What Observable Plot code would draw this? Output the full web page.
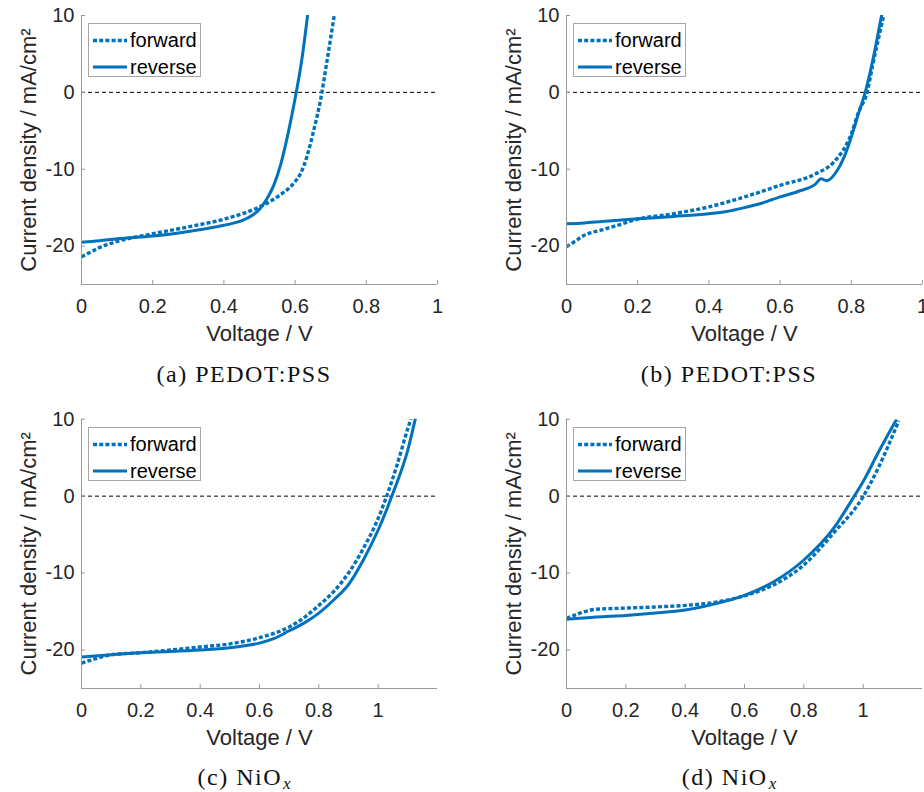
<!DOCTYPE html>
<html>
<head>
<meta charset="utf-8">
<script src="https://cdn.jsdelivr.net/npm/d3@7"></script>
<script src="https://cdn.jsdelivr.net/npm/@observablehq/plot@0.6"></script>
<style>
  body { margin: 0; background: #fff; }
  #root { position: relative; width: 924px; height: 792px; overflow: hidden; background: #fff; }
  .panel { position: absolute; width: 462px; height: 360px; }
  .legend { position: absolute; width: 113px; height: 54px; border: 1px solid #a6a6a6; background: #fff; box-sizing: border-box;
            font-family: "Liberation Sans", Arial, sans-serif; font-size: 20px; color: #000; }
  .legend svg { position: absolute; left: 0; top: 0; }
  .legend span { position: absolute; left: 41px; line-height: 20px; }
  .caption { position: absolute; font-family: "Liberation Serif", "Times New Roman", serif; font-size: 24px; letter-spacing: 1.5px;
             line-height: 25px; white-space: nowrap; transform: translateX(-50%); color: #111; }
  .caption sub { font-size: 17px; vertical-align: -4px; line-height: 0; letter-spacing: 0; margin-left: 1px; }
</style>
</head>
<body>
<div id="root"></div>
<script>
// ---------- data ----------
const xTicks = [0, 0.2, 0.4, 0.6, 0.8, 1];
const yTicks = [-20, -10, 0, 10];
const xLabel = "Voltage / V";
const yLabel = "Current density / mA/cm²";
const seriesNames = ["forward", "reverse"];
const captions = ["(a) PEDOT:PSS", "(b) PEDOT:PSS", "(c) NiO", "(d) NiO"];

// (a) PEDOT:PSS
const aForwardV = [0, 0.025, 0.05, 0.1, 0.2, 0.3, 0.4, 0.5, 0.55, 0.6, 0.615, 0.633, 0.652, 0.671, 0.69, 0.71];
const aForwardJ = [-21.4, -20.8, -20.2, -19.4, -18.4, -17.5, -16.5, -14.9, -13.6, -11.6, -10.6, -8.4, -5.0, -1.1, 4.2, 10];
const aReverseV = [0, 0.05, 0.1, 0.2, 0.3, 0.4, 0.45, 0.48, 0.5, 0.52, 0.54, 0.56, 0.58, 0.6, 0.62, 0.635];
const aReverseJ = [-19.5, -19.3, -19.05, -18.7, -18.1, -17.3, -16.7, -16.0, -15.2, -13.9, -12.1, -9.3, -5.4, -0.8, 4.6, 10];

// (b) PEDOT:PSS
const bForwardV = [0, 0.02, 0.05, 0.1, 0.15, 0.2, 0.3, 0.4, 0.5, 0.6, 0.7, 0.75, 0.8, 0.82, 0.845, 0.86, 0.89];
const bForwardJ = [-20.1, -19.5, -18.6, -17.9, -17.2, -16.5, -15.8, -14.9, -13.6, -12.1, -10.6, -9.1, -5.4, -2.6, 0.1, 3.5, 9.8];
const bReverseV = [0, 0.05, 0.1, 0.2, 0.3, 0.4, 0.45, 0.5, 0.55, 0.6, 0.65, 0.7, 0.715, 0.73, 0.76, 0.78, 0.8, 0.82, 0.84, 0.86, 0.885];
const bReverseJ = [-17.1, -17.0, -16.8, -16.45, -16.15, -15.8, -15.5, -15.0, -14.4, -13.6, -12.9, -11.9, -11.25, -11.5, -10.2, -8.4, -5.8, -2.8, 0.15, 4.1, 10];

// (c) NiOx
const cForwardV = [0, 0.05, 0.1, 0.2, 0.3, 0.4, 0.5, 0.6, 0.7, 0.75, 0.8, 0.85, 0.9, 0.95, 1.0, 1.03, 1.06, 1.1, 1.11];
const cForwardJ = [-21.7, -21.1, -20.6, -20.35, -20.0, -19.6, -19.2, -18.4, -17.0, -15.8, -14.2, -12.4, -10.0, -6.8, -2.9, 0.15, 3.6, 8.8, 10];
const cReverseV = [0, 0.1, 0.2, 0.3, 0.4, 0.5, 0.55, 0.6, 0.65, 0.7, 0.75, 0.8, 0.85, 0.9, 0.95, 1.0, 1.05, 1.1, 1.125];
const cReverseJ = [-20.9, -20.6, -20.35, -20.2, -20.0, -19.7, -19.45, -19.1, -18.5, -17.5, -16.5, -15.2, -13.5, -11.5, -8.3, -4.4, 0.4, 6.0, 10];

// (d) NiOx
const dForwardV = [0, 0.05, 0.1, 0.2, 0.3, 0.4, 0.5, 0.6, 0.7, 0.8, 0.9, 1.0, 1.05, 1.12];
const dForwardJ = [-15.9, -15.15, -14.7, -14.55, -14.4, -14.2, -13.8, -12.95, -11.5, -8.95, -4.8, -0.05, 3.6, 9.8];
const dReverseV = [0, 0.1, 0.2, 0.3, 0.4, 0.5, 0.6, 0.7, 0.8, 0.9, 0.97, 1.0, 1.05, 1.11];
const dReverseJ = [-16.0, -15.7, -15.5, -15.2, -14.8, -14.0, -12.9, -11.1, -8.3, -4.2, 0.0, 1.9, 5.6, 9.8];

// ---------- drawing ----------
const blue = "#0072BD";
const axisGray = "#999999";
const textGray = "#262626";
const sans = "'Liberation Sans', Arial, sans-serif";

function toRows(V, J) { return V.map((v, i) => ({V: v, J: J[i]})); }

function panel({fV, fJ, rV, rJ, xMax, marginLeft, marginRight, marginTop, marginBottom}) {
  const fwd = toRows(fV, fJ);
  const rev = toRows(rV, rJ);
  return Plot.plot({
    width: 462,
    height: 360,
    marginLeft, marginRight, marginTop, marginBottom,
    style: {background: "transparent", fontFamily: sans, fontSize: "20px", color: textGray, overflow: "visible"},
    x: {domain: [0, xMax]},
    y: {domain: [-25, 10]},
    marks: [
      Plot.ruleY([0], {stroke: "#000", strokeWidth: 1, strokeDasharray: "4,3"}),
      Plot.line(fwd, {x: "V", y: "J", stroke: blue, strokeWidth: 3.4, strokeDasharray: "4,2.2", strokeLinecap: "butt", strokeLinejoin: "miter", curve: "monotone-x", clip: true}),
      Plot.line(rev, {x: "V", y: "J", stroke: blue, strokeWidth: 3, curve: "monotone-x", clip: true}),
      Plot.ruleX([0], {stroke: axisGray, strokeWidth: 1}),
      Plot.ruleY([-25], {stroke: axisGray, strokeWidth: 1}),
      Plot.axisX(xTicks, {tickSize: -4, tickPadding: 18, stroke: axisGray, fill: textGray, fontSize: 20, fontFamily: sans, tickFormat: d => String(d), label: null}),
      Plot.axisY(yTicks, {tickSize: -4, tickPadding: 11, stroke: axisGray, fill: textGray, fontSize: 20, fontFamily: sans, tickFormat: d => String(d), label: null}),
      Plot.text([xLabel], {text: d => d, frameAnchor: "bottom", textAnchor: "middle", lineAnchor: "middle", dy: 49, fontSize: 22, fontFamily: sans, fill: textGray}),
      Plot.text([yLabel], {text: d => d, frameAnchor: "left", textAnchor: "middle", lineAnchor: "middle", dx: -53, rotate: -90, fontSize: 22, fontFamily: sans, fill: textGray})
    ]
  });
}

const root = document.getElementById("root");
const panels = [
  {left: 0,   top: 0,   fV: aForwardV, fJ: aForwardJ, rV: aReverseV, rJ: aReverseJ, xMax: 1,   marginLeft: 81,  marginRight: 25, marginTop: 15,   marginBottom: 76, cap: captions[0], sub: false, capX: 244, capTop: 362},
  {left: 462, top: 0,   fV: bForwardV, fJ: bForwardJ, rV: bReverseV, rJ: bReverseJ, xMax: 1,   marginLeft: 104, marginRight: 2,  marginTop: 15,   marginBottom: 76, cap: captions[1], sub: false, capX: 729, capTop: 362},
  {left: 0,   top: 396, fV: cForwardV, fJ: cForwardJ, rV: cReverseV, rJ: cReverseJ, xMax: 1.2, marginLeft: 81,  marginRight: 25, marginTop: 22.7, marginBottom: 68, cap: captions[2], sub: true,  capX: 244, capTop: 765},
  {left: 462, top: 396, fV: dForwardV, fJ: dForwardJ, rV: dReverseV, rJ: dReverseJ, xMax: 1.2, marginLeft: 104, marginRight: 2,  marginTop: 22.7, marginBottom: 68, cap: captions[3], sub: true,  capX: 729, capTop: 765}
];

for (const p of panels) {
  const div = document.createElement("div");
  div.className = "panel";
  div.style.left = p.left + "px";
  div.style.top = p.top + "px";
  div.appendChild(panel(p));
  root.appendChild(div);

  // legend
  const lg = document.createElement("div");
  lg.className = "legend";
  lg.style.left = (p.left + p.marginLeft + 7) + "px";
  lg.style.top = (p.top + p.marginTop + 8) + "px";
  lg.innerHTML =
    `<svg width="113" height="54">
       <line x1="4" y1="16.5" x2="38" y2="16.5" stroke="${blue}" stroke-width="3.4" stroke-dasharray="4,2.2"/>
       <line x1="4" y1="43" x2="38" y2="43" stroke="${blue}" stroke-width="3"/>
     </svg>
     <span style="top:6px">${seriesNames[0]}</span>
     <span style="top:33px">${seriesNames[1]}</span>`;
  root.appendChild(lg);

  // caption
  const cap = document.createElement("div");
  cap.className = "caption";
  cap.style.left = p.capX + "px";
  cap.style.top = p.capTop + "px";
  cap.innerHTML = p.sub ? `${p.cap}<sub><i>x</i></sub>` : p.cap;
  root.appendChild(cap);
}
</script>
</body>
</html>
